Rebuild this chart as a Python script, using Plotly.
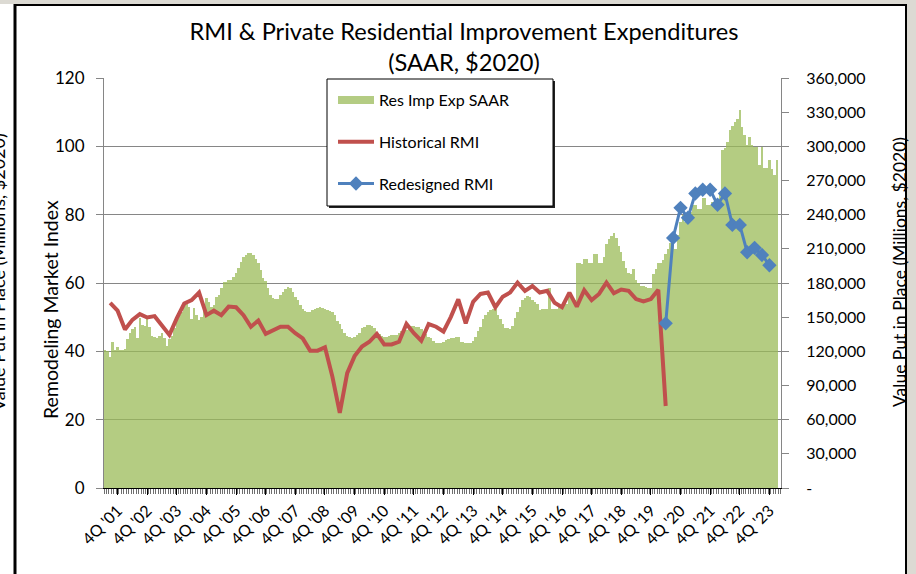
import pandas as pd
import plotly.graph_objects as go

# monthly private residential improvement spending, SAAR, millions of 2020 $
res_imp_months = pd.period_range("2001-05", "2024-01", freq="M")
res_imp_exp = [
    121200, 120000, 115200, 128400, 121200, 123600, 121500, 121500,
    122400, 130500, 135900, 139500, 141600, 132000, 149400, 143100, 142500, 150300, 141000, 133500,
    132900, 131700, 133500, 135900, 132000, 124500, 130500, 133500, 140400, 147600, 151500, 154800,
    159000, 162300, 159300, 148500, 157800, 151500, 147600, 150000, 156300, 166800, 163500, 159000,
    160500, 168000, 169500, 175200, 181200, 181200, 183000, 183000, 185400, 189000, 192900, 198600,
    202500, 204600, 206700, 206700, 204600, 201000, 198000, 191400, 184500, 181500, 175500, 169500,
    166500, 165600, 166200, 169500, 172500, 174900, 176400, 175500, 172500, 168000, 165000, 160500,
    157500, 155400, 154500, 154500, 156000, 157500, 158400, 159000, 158400, 157500, 156000, 155400,
    154500, 151500, 147000, 144000, 139500, 135900, 133500, 132300, 132000, 132600, 134400, 136500,
    140100, 141600, 143100, 143100, 142500, 140400, 137400, 135000, 133800, 132900, 132900, 133800,
    134400, 134400, 134700, 136500, 138000, 138600, 138900, 140400, 142200, 142200, 141000, 141600,
    139500, 137100, 135000, 132900, 131400, 129000, 126900, 126900, 127500, 128400, 129600, 130800,
    131400, 132000, 132900, 132900, 128400, 127800, 127500, 127500, 127500, 129000, 132900, 138000,
    141000, 148500, 151500, 154800, 156000, 156900, 156900, 151800, 148500, 144000, 140100, 140100,
    139500, 142500, 149100, 154500, 159000, 165000, 166500, 168600, 168000, 165000, 163500, 161400,
    156300, 156900, 156900, 156900, 175200, 156900, 156900, 157500, 158700, 159000, 161400, 161400,
    172500, 165000, 165000, 197400, 198000, 196500, 200700, 200700, 197700, 197700, 205500, 205500,
    198000, 198000, 202500, 214200, 219000, 221100, 224100, 219300, 212400, 207000, 199500, 193500,
    189000, 187500, 192000, 182700, 180000, 177000, 177600, 176700, 175500, 175500, 187500, 192000,
    197400, 198000, 200400, 205500, 210000, 214800, 214800, 210000, 222000, 234000, 239700, 234000,
    242700, 242700, 248400, 248400, 245400, 245400, 254400, 254400, 248400, 248400, 251400, 251400,
    252900, 257100, 296700, 298500, 304200, 314400, 318000, 321600, 324000, 331500, 317100, 309900,
    301200, 307800, 301500, 299700, 299700, 283500, 299700, 281100, 281100, 288000, 279900, 274800,
    288000,
]

historical_quarters = pd.period_range("2001Q3", "2020Q2", freq="Q")
historical_rmi = [
    54.2, 51.9, 46.4, 49.2, 50.9, 49.9, 50.3, 47.4, 44.8, 49.7, 54.0, 55.0, 57.2, 50.6, 51.9, 50.6,
    53.1, 52.9, 50.6, 47.2, 49.0, 45.1, 46.2, 47.2, 47.2, 45.3, 43.8, 40.2, 40.2, 41.2, 32.6, 22.0,
    33.6, 38.6, 41.4, 42.8, 45.1, 42.0, 42.0, 42.8, 48.0, 45.3, 43.1, 48.0, 47.2, 45.8, 50.1, 55.2,
    48.2, 54.5, 56.8, 57.2, 52.9, 56.0, 57.2, 60.1, 57.7, 59.1, 57.2, 57.7, 54.2, 52.9, 57.2, 53.1,
    57.9, 55.0, 56.8, 60.1, 57.0, 58.1, 57.7, 55.3, 54.6, 55.3, 58.0, 24.0,
]

redesigned_quarters = pd.period_range("2020Q2", "2023Q4", freq="Q")
redesigned_rmi = [48.2, 73.2, 82.0, 79.1, 86.2, 87.3, 87.3, 82.9, 86.2, 77.0, 77.0, 69.0, 70.3, 68.2, 65.2]

label_years = list(range(2001, 2024))
label_text = ["4Q '%02d" % (y % 100) for y in label_years]

right_tickvals = [0, 30000, 60000, 90000, 120000, 150000, 180000, 210000, 240000, 270000, 300000,
                  330000, 360000]
right_ticktext = ["-", "30,000", "60,000", "90,000", "120,000", "150,000", "180,000", "210,000",
                  "240,000", "270,000", "300,000", "330,000", "360,000"]

FONT = "Lato, 'Open Sans', sans-serif"
GREEN = "#9BBB59"
W, H = 916, 574
L, R, T, B = 104, 135, 78, 86


def month_pos(p):
    ts = p.start_time
    return (ts.year - 2001) * 12 + ts.month - 1


def px_x(px):
    return (px - L) / (W - L - R)


def px_y(py):
    return (H - B - py) / (H - T - B)


def px_rect(x0, y0, x1, y1, **kw):
    fig.add_shape(type="rect", xref="paper", yref="paper", x0=px_x(x0), x1=px_x(x1),
                  y0=px_y(y1), y1=px_y(y0), layer="above", **kw)


def px_line(x0, y0, x1, y1, color, width):
    fig.add_shape(type="line", xref="paper", yref="paper", x0=px_x(x0), x1=px_x(x1),
                  y0=px_y(y0), y1=px_y(y1), line=dict(color=color, width=width), layer="above")


bar_x = [month_pos(p) for p in res_imp_months]
hist_x = [month_pos(p) for p in historical_quarters]
redes_x = [month_pos(p) for p in redesigned_quarters]
label_x = [(y - 2001) * 12 + 9 for y in label_years]

fig = go.Figure()
fig.add_trace(go.Bar(x=bar_x, y=res_imp_exp, yaxis="y", width=1, name="Res Imp Exp SAAR",
                     marker=dict(color=GREEN, line_width=0), opacity=0.75,
                     legendgroup="a", showlegend=False))
# legend key only: Excel shows the bar series as a wide flat swatch
fig.add_trace(go.Scatter(x=[None], y=[None], yaxis="y", mode="lines", name="Res Imp Exp SAAR",
                         line=dict(color=GREEN, width=8), opacity=0.75, legendgroup="a"))
fig.add_trace(go.Scatter(x=hist_x, y=historical_rmi, yaxis="y2", mode="lines",
                         name="Historical RMI", line=dict(color="#C0504D", width=4),
                         legendgroup="b"))
fig.add_trace(go.Scatter(x=redes_x, y=redesigned_rmi, yaxis="y2", mode="lines+markers",
                         name="Redesigned RMI", line=dict(color="#4F81BD", width=3),
                         marker=dict(symbol="diamond", size=11, color="#4F81BD"),
                         legendgroup="c"))

fig.update_layout(
    width=W, height=H,
    margin=dict(l=L, r=R, t=T, b=B),
    paper_bgcolor="white", plot_bgcolor="white",
    font=dict(family=FONT, color="black"),
    bargap=0,
    showlegend=True,
    title=dict(text="RMI & Private Residential Improvement Expenditures<br>(SAAR, $2020)",
               x=464 / W, xanchor="center", xref="container",
               y=1 - 40 / H, yanchor="top", yref="container",
               font=dict(size=23.6, family=FONT, color="black")),
    legend=dict(x=px_x(333), y=px_y(83), xanchor="left", yanchor="top",
                bgcolor="rgba(0,0,0,0)", borderwidth=0,
                font=dict(size=16, family=FONT), tracegroupgap=18, itemwidth=36,
                traceorder="grouped"),
    xaxis=dict(range=[3.5, 277.7], tickmode="array", tickvals=label_x, ticktext=label_text,
               tickangle=-45, ticks="outside", ticklen=6, tickcolor="black",
               showline=True, linecolor="black", linewidth=1, showgrid=False, zeroline=False,
               tickfont=dict(size=16),
               minor=dict(ticks="outside", dtick=1, tick0=0.5, ticklen=5, tickcolor="#6f6f6f",
                          showgrid=False)),
    yaxis=dict(side="right", range=[0, 360000], tickmode="array", tickvals=right_tickvals,
               ticktext=right_ticktext, ticks="outside", ticklen=7, tickcolor="#868686",
               showline=True, linecolor="#868686", showgrid=False, zeroline=False,
               tickfont=dict(size=16), ticklabelstandoff=14),
    yaxis2=dict(overlaying="y", side="left", anchor="x", range=[0, 120], dtick=20,
                ticks="outside", ticklen=7, tickcolor="#868686", showline=True,
                linecolor="#868686", showgrid=True, gridcolor="#868686", gridwidth=1,
                zeroline=False, tickfont=dict(size=17), ticklabelstandoff=8),
)

# axis titles and the clipped neighbouring chart title on the far left
fig.add_annotation(text="Remodeling Market Index", textangle=-90, xref="paper", yref="paper",
                   x=px_x(50), y=px_y(310), xanchor="center", yanchor="middle",
                   showarrow=False, font=dict(size=19.5))
fig.add_annotation(text="Value Put in Place (Millions, $2020)", textangle=-90, xref="paper",
                   yref="paper", x=px_x(899), y=px_y(272), xanchor="center", yanchor="middle",
                   showarrow=False, font=dict(size=17.5))
fig.add_annotation(text="Value Put in Place (Millions, $2020)", textangle=-90, xref="paper",
                   yref="paper", x=px_x(-2), y=px_y(272), xanchor="center", yanchor="middle",
                   showarrow=False, font=dict(size=18))

# slide frame
px_rect(0, 0, W, 4, fillcolor="#dcdad3", line_width=0)
px_rect(907, 0, W, H, fillcolor="#dcdad3", line_width=0)
px_line(15, 4, 15, H, "black", 3)
px_line(906, 4, 906, H, "black", 2)
px_line(15, 5, 906, 5, "black", 2)

# legend box with drop shadow (legend entries are drawn on top of it)
px_rect(329, 81, 555, 208, fillcolor="#222222", line_width=0)
px_rect(327, 79, 553, 206, fillcolor="white", line=dict(color="black", width=1))

fig.write_html("out.html", post_script="document.body.style.margin='0';",
               config={"displayModeBar": False})
